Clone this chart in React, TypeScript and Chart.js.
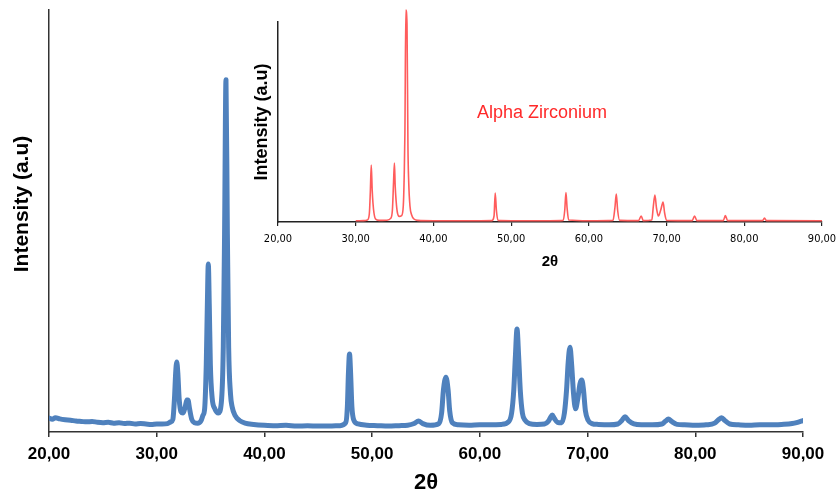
import React, { useEffect, useRef } from "react";
import { Chart, registerables } from "chart.js";

Chart.register(...registerables);

// ---- Data ----
const mainAngles = [
  20.0, 20.3, 20.6, 21.0, 21.5, 22.0, 22.5, 23.0, 23.5, 24.0, 24.5, 25.0, 25.5, 26.0, 26.5, 27.0,
  27.5, 28.0, 28.5, 29.0, 29.5, 30.0, 30.5, 31.0, 31.3, 31.5, 31.65, 31.76, 31.86, 31.96, 32.08,
  32.25, 32.45, 32.65, 32.8, 32.9, 33.05, 33.25, 33.5, 33.8, 34.1, 34.3, 34.45, 34.6, 34.7, 34.79,
  34.88, 34.98, 35.15, 35.4, 35.72, 36.0, 36.18, 36.3, 36.43, 36.56, 36.68, 36.85, 37.0, 37.3,
  37.7, 38.2, 39.0, 40.0, 41.0, 42.0, 43.0, 44.0, 45.0, 46.0, 47.0, 47.55, 47.7, 47.8, 47.9,
  48.0, 48.12, 48.3, 48.7, 49.5, 50.5, 51.5, 52.5, 53.3, 53.9, 54.3, 54.7, 55.4, 56.2, 56.45,
  56.62, 56.85, 57.05, 57.2, 57.45, 58.0, 59.0, 60.0, 61.0, 62.0, 62.7, 62.95, 63.15, 63.3,
  63.45, 63.6, 63.75, 63.95, 64.2, 64.6, 65.3, 66.0, 66.35, 66.55, 66.72, 66.92, 67.2, 67.6,
  67.85, 68.05, 68.2, 68.37, 68.52, 68.7, 68.88, 69.1, 69.3, 69.47, 69.62, 69.8, 70.05, 70.4,
  71.0, 72.0, 72.8, 73.2, 73.48, 73.8, 74.3, 75.0, 76.0, 76.9, 77.25, 77.5, 77.8, 78.3, 79.0,
  80.0, 81.0, 81.8, 82.15, 82.45, 82.75, 83.2, 84.0, 85.0, 86.0, 87.0, 88.0, 89.0, 89.5, 90.0,
];
const mainIntensity = [
  33, 30, 34, 31, 29, 28, 26, 25, 24, 25, 23, 22, 23, 21, 22, 20,
  21, 19, 20, 19, 18, 19, 19, 20, 24, 30, 80, 140, 166, 140, 80,
  48, 45, 60, 76, 76, 55, 30, 22, 21, 26, 40, 55, 160, 300, 398,
  300, 160, 80, 55, 45, 70, 200, 470, 835, 470, 200, 90, 60, 38,
  27, 21, 18, 16, 15, 16, 14, 15, 14, 14, 15, 22, 60, 140, 185,
  140, 60, 28, 19, 16, 15, 14, 15, 16, 20, 26, 20, 16, 20, 45,
  100, 130, 100, 50, 22, 17, 16, 17, 17, 18, 25, 45, 100, 180,
  244, 180, 100, 45, 28, 20, 18, 19, 25, 34, 40, 32, 23, 22,
  45, 100, 165, 201, 160, 90, 55, 80, 115, 123, 100, 50, 28, 20,
  18, 17, 19, 28, 36, 27, 19, 17, 17, 19, 26, 31, 25, 18, 17,
  16, 17, 21, 29, 34, 27, 19, 17, 16, 17, 17, 18, 20, 23, 27,
];

const insetAngles = [
  30.0, 31.0, 31.5, 31.75, 31.88, 32.0, 32.12, 32.22, 32.35, 32.55, 33.0, 34.0, 34.5, 34.72, 34.87,
  34.98, 35.08, 35.2, 35.35, 35.6, 35.9, 36.12, 36.25, 36.33, 36.45, 36.6, 36.72, 36.82, 36.98,
  37.2, 37.5, 38.0, 40.0, 45.0, 47.5, 47.8, 47.95, 48.1, 48.3, 50.0, 55.0, 56.7, 56.9, 57.05,
  57.2, 57.4, 60.0, 63.1, 63.35, 63.53, 63.7, 63.95, 66.4, 66.73, 67.0, 68.1, 68.3, 68.5, 68.7,
  68.95, 69.25, 69.55, 69.75, 70.0, 73.3, 73.6, 73.9, 77.3, 77.56, 77.85, 82.35, 82.6, 82.85, 90.0,
];
const insetIntensity = [
  6, 7, 10, 40, 150, 285, 160, 95, 45, 15, 8, 9, 18, 60, 200,
  295, 180, 105, 50, 28, 32, 80, 250, 445, 1060, 990, 380, 200, 80,
  35, 15, 8, 6, 6, 7, 30, 145, 60, 8, 6, 6, 8, 60, 147,
  70, 10, 6, 8, 70, 140, 60, 8, 7, 30, 7, 10, 80, 135, 70,
  30, 60, 100, 45, 8, 7, 30, 7, 7, 32, 7, 7, 20, 7, 6,
];

const xTickValues = [20, 30, 40, 50, 60, 70, 80, 90];
const xTickLabels = ["20,00", "30,00", "40,00", "50,00", "60,00", "70,00", "80,00", "90,00"];
const yTitle = "Intensity (a.u)";
const xTitle = "2θ";
const insetLabel = "Alpha Zirconium";

const SANS = '"Liberation Sans", Arial, Helvetica, sans-serif';
const NARROW = '"Liberation Sans Narrow", "Arial Narrow", "DejaVu Sans Condensed", "Liberation Sans", sans-serif';

const tickLabel = (v: number | string) => {
  const i = xTickValues.indexOf(Math.round(Number(v)));
  return i >= 0 ? xTickLabels[i] : "";
};

export default function App() {
  const mainRef = useRef<HTMLCanvasElement | null>(null);
  const insetRef = useRef<HTMLCanvasElement | null>(null);

  useEffect(() => {
    if (!mainRef.current || !insetRef.current) return;

    const mainYTitlePlugin = {
      id: "mainYTitle",
      afterDraw(chart: any) {
        const ctx = chart.ctx;
        ctx.save();
        ctx.translate(22.5, 204);
        ctx.rotate(-Math.PI / 2);
        ctx.font = `bold 21px ${SANS}`;
        ctx.fillStyle = "#000";
        ctx.textAlign = "center";
        ctx.textBaseline = "middle";
        ctx.fillText(yTitle, 0, 0);
        ctx.restore();
      },
    };

    const insetLabelPlugin = {
      id: "insetLabel",
      afterDraw(chart: any) {
        const ctx = chart.ctx;
        ctx.save();
        ctx.font = `18px ${SANS}`;
        ctx.fillStyle = "#ff2a2a";
        ctx.textAlign = "center";
        ctx.textBaseline = "middle";
        ctx.fillText(insetLabel, 302, 113);
        ctx.restore();
      },
    };

    const main = new Chart(mainRef.current, {
      type: "line",
      data: {
        datasets: [
          {
            data: mainAngles.map((x, i) => ({ x, y: mainIntensity[i] })),
            borderColor: "#4f81bd",
            borderWidth: 5,
            pointRadius: 0,
            fill: false,
            cubicInterpolationMode: "monotone",
            borderJoinStyle: "round",
            borderCapStyle: "round",
          },
        ],
      },
      options: {
        responsive: false,
        animation: false,
        events: [],
        layout: { padding: { top: 10, right: 33, left: 0, bottom: 0 } },
        plugins: { legend: { display: false }, tooltip: { enabled: false } },
        scales: {
          x: {
            type: "linear",
            min: 20,
            max: 90,
            afterFit: (s: any) => {
              s.height = 62;
            },
            ticks: {
              stepSize: 10,
              autoSkip: false,
              maxRotation: 0,
              padding: 7,
              color: "#000",
              font: { family: SANS, size: 17, weight: "bold", lineHeight: 1.2 },
              callback: (v: any) => tickLabel(v),
            },
            grid: {
              display: true,
              drawOnChartArea: false,
              drawTicks: true,
              tickLength: 5,
              color: "#333",
              lineWidth: 1.5,
            },
            border: { display: true, color: "#333", width: 1.5 },
            title: {
              display: true,
              text: xTitle,
              color: "#000",
              font: { family: SANS, size: 22, weight: "bold", lineHeight: 1 },
              padding: { top: 0, bottom: 0 },
            },
          },
          y: {
            type: "linear",
            min: 0,
            max: 1000,
            afterFit: (s: any) => {
              s.width = 49;
            },
            ticks: { display: false },
            grid: { display: false, drawTicks: false },
            border: { display: true, color: "#333", width: 1.5 },
          },
        },
      },
      plugins: [mainYTitlePlugin],
    } as any);

    const inset = new Chart(insetRef.current, {
      type: "line",
      data: {
        datasets: [
          {
            data: insetAngles.map((x, i) => ({ x, y: insetIntensity[i] })),
            borderColor: "#ff5c5c",
            borderWidth: 1.6,
            pointRadius: 0,
            fill: false,
            clip: false,
            cubicInterpolationMode: "monotone",
          },
        ],
      },
      options: {
        responsive: false,
        animation: false,
        events: [],
        layout: { padding: { top: 22, right: 28, left: 0, bottom: 0 } },
        plugins: { legend: { display: false }, tooltip: { enabled: false } },
        scales: {
          x: {
            type: "linear",
            min: 20,
            max: 90,
            afterFit: (s: any) => {
              s.height = 58;
            },
            ticks: {
              stepSize: 10,
              autoSkip: false,
              maxRotation: 0,
              padding: 7,
              color: "#000",
              font: { family: NARROW, size: 11, lineHeight: 1.2 },
              callback: (v: any) => tickLabel(v),
            },
            grid: {
              display: true,
              drawOnChartArea: false,
              drawTicks: true,
              tickLength: 4,
              color: "#222",
              lineWidth: 1.2,
            },
            border: { display: true, color: "#222", width: 1.5 },
            title: {
              display: true,
              text: xTitle,
              color: "#000",
              font: { family: SANS, size: 15, weight: "bold", lineHeight: 1 },
              padding: { top: 0, bottom: 10.5 },
            },
          },
          y: {
            type: "linear",
            min: 0,
            max: 1000,
            afterFit: (s: any) => {
              s.width = 38;
            },
            ticks: { display: false },
            grid: { display: false, drawTicks: false },
            border: { display: true, color: "#222", width: 1.5 },
            title: {
              display: true,
              text: yTitle,
              color: "#000",
              font: { family: SANS, size: 18, weight: "bold", lineHeight: 1 },
              padding: { top: 13, bottom: 0 },
            },
          },
        },
      },
      plugins: [insetLabelPlugin],
    } as any);

    return () => {
      main.destroy();
      inset.destroy();
    };
  }, []);

  return (
    <div
      style={{
        position: "absolute",
        left: 0,
        top: 0,
        width: 836,
        height: 494,
        background: "#fff",
        overflow: "hidden",
      }}
    >
      <canvas
        ref={mainRef}
        width={836}
        height={494}
        style={{ position: "absolute", left: 0, top: 0, width: 836, height: 494 }}
      />
      <canvas
        ref={insetRef}
        width={610}
        height={280}
        style={{ position: "absolute", left: 240, top: 0, width: 610, height: 280 }}
      />
    </div>
  );
}
